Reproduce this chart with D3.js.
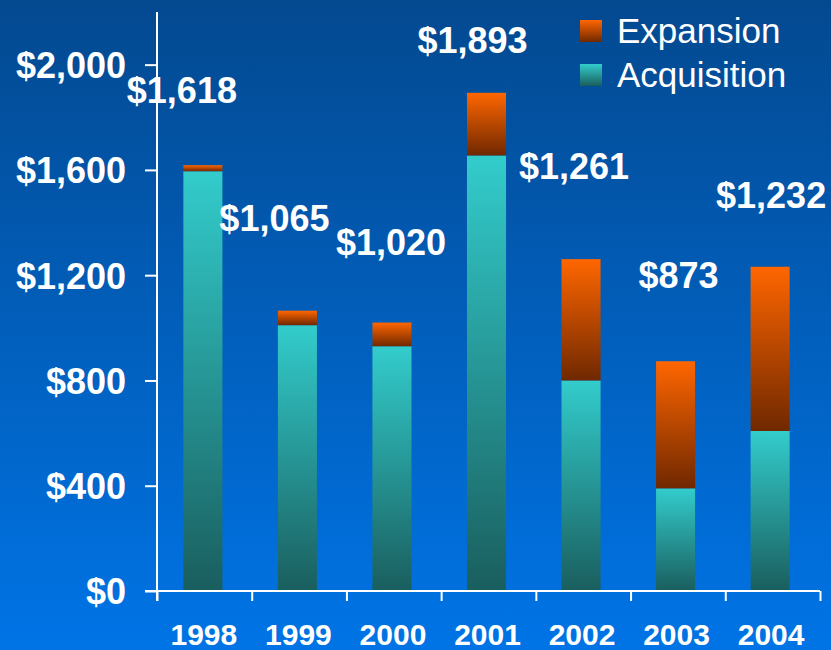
<!DOCTYPE html>
<html>
<head>
<meta charset="utf-8">
<script src="https://cdn.jsdelivr.net/npm/d3@7"></script>
<style>
  html, body { margin: 0; padding: 0; }
  body { width: 831px; height: 650px; overflow: hidden; }
  text { font-family: Arial, "Liberation Sans", sans-serif; fill: #fff; }
</style>
</head>
<body>
<script>
// data
var years       = ['1998', '1999', '2000', '2001', '2002', '2003', '2004'];
var acquisition = [1595, 1010, 930, 1655, 800, 390, 608];
var expansion   = [23, 55, 90, 238, 461, 483, 624];
var totals      = [1618, 1065, 1020, 1893, 1261, 873, 1232];
var yTicks      = [0, 400, 800, 1200, 1600, 2000];
var seriesNames = ['Expansion', 'Acquisition'];

// layout: nudges for the total labels [dx, lift] in px
var labelNudge = [[-21, 62], [-23, 80], [-1, 68], [-14, 40], [-7, 80], [3, 73], [1, 59]];

var width  = 831,
    height = 650;

var svg = d3.select('body').append('svg')
    .attr('width', width)
    .attr('height', height);

var defs = svg.append('defs');

function vGrad(id, top, bottom) {
  var g = defs.append('linearGradient')
      .attr('id', id)
      .attr('x1', 0).attr('y1', 0)
      .attr('x2', 0).attr('y2', 1);
  g.append('stop').attr('offset', '0%').attr('stop-color', top);
  g.append('stop').attr('offset', '100%').attr('stop-color', bottom);
}

vGrad('bg', '#034990', '#0074e6');
vGrad('teal', '#33cccc', '#1a5e5e');
vGrad('orange', '#ff6600', '#702800');

svg.append('rect')
    .attr('width', width)
    .attr('height', height)
    .attr('fill', 'url(#bg)');

var x = d3.scaleBand()
    .domain(years)
    .range([155, 818])
    .paddingInner(0.587)
    .paddingOuter(0.3);

var y = d3.scaleLinear()
    .domain([0, 2200])
    .range([591, 12]);

var rows = years.map(function(d, i) {
  return {year: d, acq: acquisition[i], exp: expansion[i], total: totals[i], i: i};
});

// bars
var bars = svg.append('g');

bars.selectAll('rect.acq')
  .data(rows)
  .enter().append('rect')
    .attr('class', 'acq')
    .attr('x', function(d) {return x(d.year)})
    .attr('width', x.bandwidth())
    .attr('y', function(d) {return y(d.acq)})
    .attr('height', function(d) {return y(0) - y(d.acq)})
    .attr('fill', 'url(#teal)');

bars.selectAll('rect.exp')
  .data(rows)
  .enter().append('rect')
    .attr('class', 'exp')
    .attr('x', function(d) {return x(d.year)})
    .attr('width', x.bandwidth())
    .attr('y', function(d) {return y(d.acq + d.exp)})
    .attr('height', function(d) {return y(d.acq) - y(d.acq + d.exp)})
    .attr('fill', 'url(#orange)');

// y axis
var yAxis = svg.append('g')
    .attr('transform', 'translate(157,0)')
    .call(d3.axisLeft(y)
      .tickValues(yTicks)
      .tickSize(12)
      .tickPadding(19)
      .tickFormat(function(d) {return '$' + d3.format(',')(d)}));

yAxis.select('.domain').remove();
yAxis.selectAll('line').attr('stroke', '#fff').attr('stroke-width', 2);
yAxis.selectAll('text')
    .attr('fill', '#fff')
    .style('font-size', '36px')
    .style('font-weight', 'bold')
    .attr('dy', '0.36em');

svg.append('line')
    .attr('x1', 157).attr('x2', 157)
    .attr('y1', 12).attr('y2', 601)
    .attr('stroke', '#fff')
    .attr('stroke-width', 2);

// x axis (ticks at band edges)
var edge = d3.scaleLinear()
    .domain([0, years.length])
    .range([157, 820]);

var xAxis = svg.append('g')
    .attr('transform', 'translate(0,591)')
    .call(d3.axisBottom(edge)
      .ticks(years.length)
      .tickSize(10)
      .tickSizeOuter(0)
      .tickFormat(''));

xAxis.select('.domain')
    .attr('d', 'M145,0H820')
    .attr('stroke', '#fff')
    .attr('stroke-width', 2);
xAxis.selectAll('line').attr('stroke', '#fff').attr('stroke-width', 2);

svg.append('g').selectAll('text')
  .data(years)
  .enter().append('text')
    .attr('x', function(d) {return x(d) + x.bandwidth() / 2 + 1})
    .attr('y', 645)
    .attr('text-anchor', 'middle')
    .style('font-size', '30px')
    .style('font-weight', 'bold')
    .text(function(d) {return d});

// total labels
svg.append('g').selectAll('text')
  .data(rows)
  .enter().append('text')
    .attr('x', function(d) {return x(d.year) + x.bandwidth() / 2 + labelNudge[d.i][0]})
    .attr('y', function(d) {return y(d.total) - labelNudge[d.i][1]})
    .attr('text-anchor', 'middle')
    .style('font-size', '36px')
    .style('font-weight', 'bold')
    .text(function(d) {return '$' + d3.format(',')(d.total)});

// legend
var legend = svg.append('g')
    .attr('transform', 'translate(580,20)');

var item = legend.selectAll('g')
  .data(seriesNames)
  .enter().append('g')
    .attr('transform', function(d, i) {return 'translate(0,' + i * 44 + ')'});

item.append('rect')
    .attr('width', 22)
    .attr('height', 22)
    .attr('fill', function(d, i) {return i === 0 ? 'url(#orange)' : 'url(#teal)'});

item.append('text')
    .attr('x', 37)
    .attr('y', 23)
    .style('font-size', '35px')
    .text(function(d) {return d});
</script>
</body>
</html>
